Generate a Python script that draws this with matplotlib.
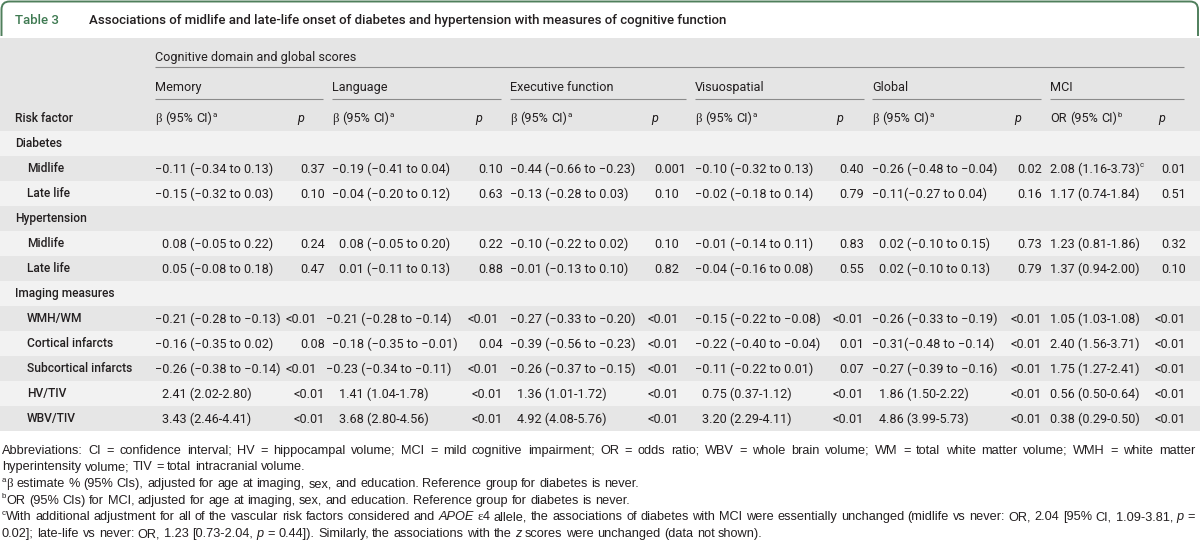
import matplotlib
matplotlib.use("Agg")
import matplotlib.pyplot as plt
from matplotlib.path import Path
from matplotlib.patches import PathPatch, Rectangle

# ---------------- content ----------------
table_label = "Table 3"
table_title = ("Associations of midlife and late-life onset of diabetes and hypertension "
               "with measures of cognitive function")
super_header = "Cognitive domain and global scores"
domains = ["Memory", "Language", "Executive function", "Visuospatial", "Global", "MCI"]
stat_names = ["β", "β", "β", "β", "β", "OR"]
stat_notes = ["a", "a", "a", "a", "a", "b"]
risk_header = "Risk factor"

row_labels = ["Diabetes", "Midlife", "Late life",
              "Hypertension", "Midlife", "Late life",
              "Imaging measures", "WMH/WM", "Cortical infarcts", "Subcortical infarcts",
              "HV/TIV", "WBV/TIV"]
section_rows = [0, 3, 6]

memory_ci = ["−0.11 (−0.34 to 0.13)", "−0.15 (−0.32 to 0.03)", "0.08 (−0.05 to 0.22)",
             "0.05 (−0.08 to 0.18)", "−0.21 (−0.28 to −0.13)", "−0.16 (−0.35 to 0.02)",
             "−0.26 (−0.38 to −0.14)", "2.41 (2.02-2.80)", "3.43 (2.46-4.41)"]
memory_p = ["0.37", "0.10", "0.24", "0.47", "<0.01", "0.08", "<0.01", "<0.01", "<0.01"]
language_ci = ["−0.19 (−0.41 to 0.04)", "−0.04 (−0.20 to 0.12)", "0.08 (−0.05 to 0.20)",
               "0.01 (−0.11 to 0.13)", "−0.21 (−0.28 to −0.14)", "−0.18 (−0.35 to −0.01)",
               "−0.23 (−0.34 to −0.11)", "1.41 (1.04-1.78)", "3.68 (2.80-4.56)"]
language_p = ["0.10", "0.63", "0.22", "0.88", "<0.01", "0.04", "<0.01", "<0.01", "<0.01"]
executive_ci = ["−0.44 (−0.66 to −0.23)", "−0.13 (−0.28 to 0.03)", "−0.10 (−0.22 to 0.02)",
                "−0.01 (−0.13 to 0.10)", "−0.27 (−0.33 to −0.20)", "−0.39 (−0.56 to −0.23)",
                "−0.26 (−0.37 to −0.15)", "1.36 (1.01-1.72)", "4.92 (4.08-5.76)"]
executive_p = ["0.001", "0.10", "0.10", "0.82", "<0.01", "<0.01", "<0.01", "<0.01", "<0.01"]
visuo_ci = ["−0.10 (−0.32 to 0.13)", "−0.02 (−0.18 to 0.14)", "−0.01 (−0.14 to 0.11)",
            "−0.04 (−0.16 to 0.08)", "−0.15 (−0.22 to −0.08)", "−0.22 (−0.40 to −0.04)",
            "−0.11 (−0.22 to 0.01)", "0.75 (0.37-1.12)", "3.20 (2.29-4.11)"]
visuo_p = ["0.40", "0.79", "0.83", "0.55", "<0.01", "0.01", "0.07", "<0.01", "<0.01"]
global_ci = ["−0.26 (−0.48 to −0.04)", "−0.11(−0.27 to 0.04)", "0.02 (−0.10 to 0.15)",
             "0.02 (−0.10 to 0.13)", "−0.26 (−0.33 to −0.19)", "−0.31(−0.48 to −0.14)",
             "−0.27 (−0.39 to −0.16)", "1.86 (1.50-2.22)", "4.86 (3.99-5.73)"]
global_p = ["0.02", "0.16", "0.73", "0.79", "<0.01", "<0.01", "<0.01", "<0.01", "<0.01"]
mci_or = ["2.08 (1.16-3.73)", "1.17 (0.74-1.84)", "1.23 (0.81-1.86)", "1.37 (0.94-2.00)",
          "1.05 (1.03-1.08)", "2.40 (1.56-3.71)", "1.75 (1.27-2.41)", "0.56 (0.50-0.64)",
          "0.38 (0.29-0.50)"]
mci_or_notes = ["c", "", "", "", "", "", "", "", ""]
mci_p = ["0.01", "0.51", "0.32", "0.10", "<0.01", "<0.01", "<0.01", "<0.01", "<0.01"]

estimates = [memory_ci, language_ci, executive_ci, visuo_ci, global_ci, mci_or]
pvalues = [memory_p, language_p, executive_p, visuo_p, global_p, mci_p]

IT = {"style": "italic"}
SUP = {"sup": True}
SER = {"family": ["Liberation Serif", "DejaVu Serif"]}
footnotes = [
    ([("Abbreviations: CI = confidence interval; HV = hippocampal volume; MCI = mild cognitive "
       "impairment; OR = odds ratio; WBV = whole brain volume; WM = total white matter volume; "
       "WMH = white matter", {})], True),
    ([("hyperintensity volume; TIV = total intracranial volume.", {})], False),
    ([("a", SUP), ("β", SER), (" estimate % (95% CIs), adjusted for age at imaging, sex, and "
                               "education. Reference group for diabetes is never.", {})], False),
    ([("b", SUP), ("OR (95% CIs) for MCI, adjusted for age at imaging, sex, and education. "
                   "Reference group for diabetes is never.", {})], False),
    ([("c", SUP), ("With additional adjustment for all of the vascular risk factors considered and ", {}),
      ("APOE", IT), (" ", {}), ("ε", SER), ("4 allele, the associations of diabetes with MCI were "
                                             "essentially unchanged (midlife vs never: OR, 2.04 [95% CI, "
                                             "1.09-3.81, ", {}), ("p", IT), (" =", {})], True),
    ([("0.02]; late-life vs never: OR, 1.23 [0.73-2.04, ", {}), ("p", IT),
      (" = 0.44]). Similarly, the associations with the ", {}), ("z", IT),
      (" scores were unchanged (data not shown).", {})], False),
]

# ---------------- style / layout ----------------
W, H, DPI = 1200, 540, 100
PX = DPI / 72.0
INK = "#231f20"
GREEN = "#3f7a52"
BORDER = "#4f7f5c"
HEAD_BG = "#e5e5e5"
ROW_LIGHT = "#f2f2f2"
ROW_DARK = "#e6e6e6"
RULE = "#8a8a8a"
TAB_FONT = ["Roboto", "DejaVu Sans"]
FOOT_FONT = ["Liberation Sans", "DejaVu Sans"]

GROUP_X = [155, 332, 510, 695, 872, 1050]
GROUP_END = [323, 501, 686, 864, 1041, 1184]
P_X = [300, 478, 654, 839, 1017, 1161]
# rows whose first estimate is long are typeset a little tighter in the reference
TIGHT_P = {0: -8, 1: -4}
TIGHT_BETA = {1: -6}

fig = plt.figure(figsize=(W / DPI, H / DPI), dpi=DPI)
fig.patch.set_facecolor("white")
ax = fig.add_axes([0, 0, 1, 1])
ax.set_xlim(0, W)
ax.set_ylim(H, 0)
ax.axis("off")
R = fig.canvas.get_renderer()


def T(x, y, s, size, family, weight="normal", style="normal", color=INK, ha="left"):
    return ax.text(x, y, s, fontsize=size, family=family, fontweight=weight,
                   fontstyle=style, color=color, ha=ha, va="baseline")


def wid(t):
    return t.get_window_extent(renderer=R).width


def measure(s, size, family, weight="normal"):
    t = T(0, 0, s, size, family, weight)
    w = wid(t)
    t.remove()
    return w


def fit(s, family, weight, target):
    return 10 * target / measure(s, 10, family, weight)


def base(yc, size):
    return yc + 0.36 * size * PX


def draw_runs(x, yb, parts, size, family, justify_to=None, color=INK):
    toks = []
    for s, kw in parts:
        pieces = s.split(" ")
        for i, piece in enumerate(pieces):
            if i > 0:
                toks.append((None, kw))
            if piece:
                toks.append((piece, kw))
    arts = []
    for s, kw in toks:
        if s is None:
            arts.append(None)
            continue
        sup = kw.get("sup", False)
        sz = size * (0.62 if sup else 1.0)
        yy = yb - (0.42 * size * PX if sup else 0)
        arts.append(T(0, yy, s, sz, kw.get("family", family), kw.get("weight", "normal"),
                      kw.get("style", "normal"), color))
    widths = [wid(a) if a is not None else 0 for a in arts]
    space = 0.278 * size * PX
    nsp = sum(1 for a in arts if a is None)
    natural = sum(widths) + nsp * space
    if justify_to is not None and nsp:
        space += (justify_to - x - natural) / nsp
    cx = x
    for a, w in zip(arts, widths):
        if a is None:
            cx += space
        else:
            a.set_x(cx)
            cx += w
    return cx


# sizes fitted to the reference text extents
S_TAB = fit(memory_ci[0], TAB_FONT, "normal", 117)
S_LAB = fit("Subcortical infarcts", TAB_FONT, "medium", 105)
S_TITLE = fit(table_title, TAB_FONT, "medium", 639)
S_FOOT = fit("β estimate % (95% CIs), adjusted for age at imaging, sex, and education. "
             "Reference group for diabetes is never.", FOOT_FONT, "normal", 636)

# ---------------- background ----------------
ax.add_patch(Rectangle((0, 37.5), W, 93, facecolor=HEAD_BG, edgecolor="none", zorder=0))
ROW_TOP, ROW_H = 130.5, 25.0
for i in range(len(row_labels)):
    ax.add_patch(Rectangle((0, ROW_TOP + i * ROW_H), W, ROW_H,
                           facecolor=ROW_LIGHT if i % 2 == 0 else ROW_DARK,
                           edgecolor="none", zorder=0))

# title frame
r = 8
verts = [(1.5, 36), (1.5, 1.5 + r), (1.5, 1.5), (1.5 + r, 1.5), (W - 2 - r, 1.5),
         (W - 2, 1.5), (W - 2, 1.5 + r), (W - 2, 36)]
codes = [Path.MOVETO, Path.LINETO, Path.CURVE3, Path.CURVE3, Path.LINETO,
         Path.CURVE3, Path.CURVE3, Path.LINETO]
ax.add_patch(PathPatch(Path(verts, codes), facecolor="none", edgecolor=BORDER, lw=1.4, zorder=2))

# title
T(15, base(19, S_TITLE), table_label, S_TITLE, TAB_FONT, "medium", color=GREEN)
T(89, base(19, S_TITLE), table_title, S_TITLE, TAB_FONT, "medium")

# ---------------- header ----------------
T(GROUP_X[0], base(56, S_TAB), super_header, S_TAB, TAB_FONT)
ax.plot([GROUP_X[0], GROUP_END[-1]], [67, 67], color=RULE, lw=0.8, solid_capstyle="butt")
for k, name in enumerate(domains):
    T(GROUP_X[k], base(86, S_TAB), name, S_TAB, TAB_FONT)
    ax.plot([GROUP_X[k], GROUP_END[k]], [98.5, 98.5], color=RULE, lw=0.8, solid_capstyle="butt")
    yb = base(117.5, S_TAB)
    fam = ["Liberation Serif", "DejaVu Serif"] if stat_names[k] == "β" else TAB_FONT
    draw_runs(GROUP_X[k], yb, [(stat_names[k], {"family": fam}), (" (95% CI)", {}),
                               (stat_notes[k], SUP)], S_TAB, TAB_FONT)
    T(P_X[k] - 3, yb, "p", S_TAB, TAB_FONT, style="italic")
T(15, base(117.5, S_LAB), risk_header, S_LAB, TAB_FONT, "medium")

# ---------------- body ----------------
minus_w = measure("−", S_TAB, TAB_FONT)
lt_w = measure("<", S_TAB, TAB_FONT)


def hang(x_anchor, yb, s):
    if s.startswith("−"):
        x0 = x_anchor - minus_w
    elif s.startswith("<"):
        x0 = x_anchor - lt_w
    else:
        x0 = x_anchor
    t = T(x0, yb, s, S_TAB, TAB_FONT)
    return x0 + wid(t)


d = 0
for i, label in enumerate(row_labels):
    yc = ROW_TOP + i * ROW_H + ROW_H / 2
    yb = base(yc, S_TAB)
    if i in section_rows:
        T(15, base(yc, S_LAB), label, S_LAB, TAB_FONT, "medium")
        continue
    T(27, base(yc, S_LAB), label, S_LAB, TAB_FONT, "medium")
    tight = len(estimates[0][d]) >= 22
    for k in range(len(domains)):
        est = estimates[k][d]
        anchor = GROUP_X[k] + (minus_w if k < 5 else 0)
        if tight:
            anchor += TIGHT_BETA.get(k, 0)
        end = hang(anchor, yb, est)
        if k == 5 and mci_or_notes[d]:
            T(end, yb - 0.42 * S_TAB * PX, mci_or_notes[d], S_TAB * 0.62, TAB_FONT)
        px = P_X[k] + (TIGHT_P.get(k, 0) if tight else 0)
        hang(px, yb, pvalues[k][d])
    d += 1

# ---------------- footnotes ----------------
FOOT_Y0, FOOT_DY = 449, 16.7
for j, (parts, just) in enumerate(footnotes):
    yb = base(FOOT_Y0 + j * FOOT_DY, S_FOOT)
    draw_runs(2, yb, parts, S_FOOT, FOOT_FONT, justify_to=1195 if just else None)

fig.savefig("out.png", dpi=DPI, facecolor="white")
